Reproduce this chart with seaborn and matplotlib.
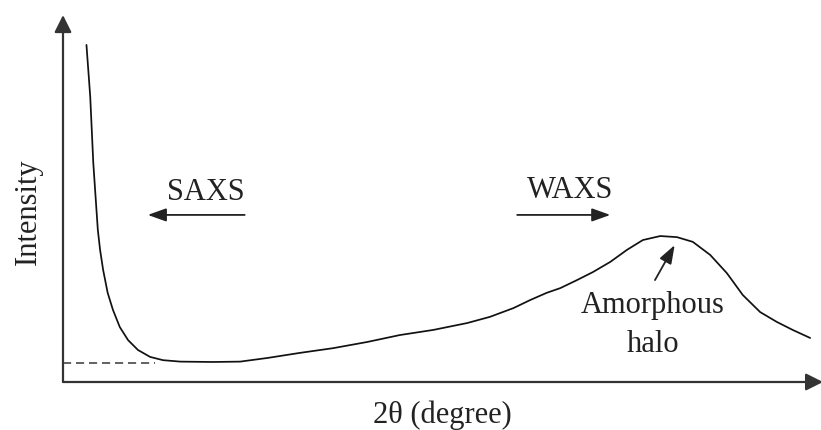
import numpy as np
import pandas as pd
import matplotlib
matplotlib.use('Agg')
import matplotlib.pyplot as plt
import seaborn as sns

# Curve (arbitrary units, 0-100 on both axes)
two_theta = [3.1, 3.6, 4.0, 4.45, 4.6, 4.9, 5.3, 5.9, 6.6, 7.5, 8.6, 9.9,
             11.5, 13.2, 15.5, 19.8, 23.4, 27.0, 31.3, 35.7, 40.2, 44.5,
             48.9, 53.4, 56.4, 59.5, 61.7, 63.9, 65.7, 67.9, 70.0, 72.3,
             74.5, 76.6, 78.9, 81.1, 83.2, 85.5, 87.7, 89.8, 92.1, 94.3,
             96.4, 98.7]
intensity = [92.6, 78.3, 60.2, 46.4, 41.8, 36.3, 30.8, 24.5, 19.8, 15.1, 11.5, 8.8,
             6.9, 6.0, 5.6, 5.5, 5.6, 6.6, 8.0, 9.3, 11.0, 12.9,
             14.3, 16.2, 17.9, 20.3, 22.5, 24.5, 25.8, 28.0, 30.2, 33.0,
             36.3, 39.0, 40.1, 39.8, 38.5, 34.9, 29.9, 23.9, 19.2, 16.5,
             14.3, 12.1]

# Dashed baseline
baseline_x = [0, 12.2]
baseline_y = [5.2, 5.2]

df = pd.DataFrame({'two_theta': two_theta, 'intensity': intensity})

sns.set_style('white')
plt.rcParams['font.family'] = ['Liberation Serif', 'DejaVu Serif']

fig = plt.figure(figsize=(8.21, 4.30), dpi=100)
ax = fig.add_axes([63 / 821, 48 / 430, 757 / 821, 364 / 430])
ax.set_xlim(0, 100)
ax.set_ylim(0, 100)
ax.axis('off')

# Curve and baseline
sns.lineplot(data=df, x='two_theta', y='intensity', ax=ax, color='#111111',
             lw=1.25, estimator=None, sort=False, solid_joinstyle='round')
ax.plot(baseline_x, baseline_y, color='#555555', lw=1.3, dashes=(4.5, 2.7))

# Axes drawn as arrows
axis_arrow = dict(arrowstyle='-|>', lw=1.6, color='#333333',
                  mutation_scale=26, shrinkA=0, shrinkB=0)
ax.annotate('', xy=(100.4, 0), xytext=(0, 0), arrowprops=axis_arrow,
            annotation_clip=False)
ax.annotate('', xy=(0, 100.8), xytext=(0, 0), arrowprops=axis_arrow,
            annotation_clip=False)

fs = 22
ax.text(-4.6, 46.7, 'Intensity', rotation=90, ha='center', va='center',
        fontsize=fs, color='#222222', clip_on=False)
ax.text(50.1, -11.3, '2θ (degree)', ha='center', va='baseline',
        fontsize=fs, color='#222222', clip_on=False)

# SAXS / WAXS labels with direction arrows
small_arrow = dict(arrowstyle='-|>,head_length=0.7,head_width=0.25', lw=1.3,
                   color='#222222', mutation_scale=16, shrinkA=0, shrinkB=0)
ax.text(18.9, 50.0, 'SAXS', ha='center', va='baseline', fontsize=fs, color='#222222')
ax.annotate('', xy=(11.2, 45.9), xytext=(24.0, 45.9), arrowprops=small_arrow)
ax.text(67.0, 50.5, 'WAXS', ha='center', va='baseline', fontsize=fs, color='#222222')
ax.annotate('', xy=(72.3, 45.9), xytext=(60.0, 45.9), arrowprops=small_arrow)

# Amorphous halo label
ax.text(77.9, 19.0, 'Amorphous', ha='center', va='baseline', fontsize=fs, color='#222222')
ax.text(78.0, 8.2, 'halo', ha='center', va='baseline', fontsize=fs, color='#222222')
ax.annotate('', xy=(80.8, 37.6), xytext=(78.2, 28.0), arrowprops=small_arrow)

fig.savefig('out.png', dpi=100)
